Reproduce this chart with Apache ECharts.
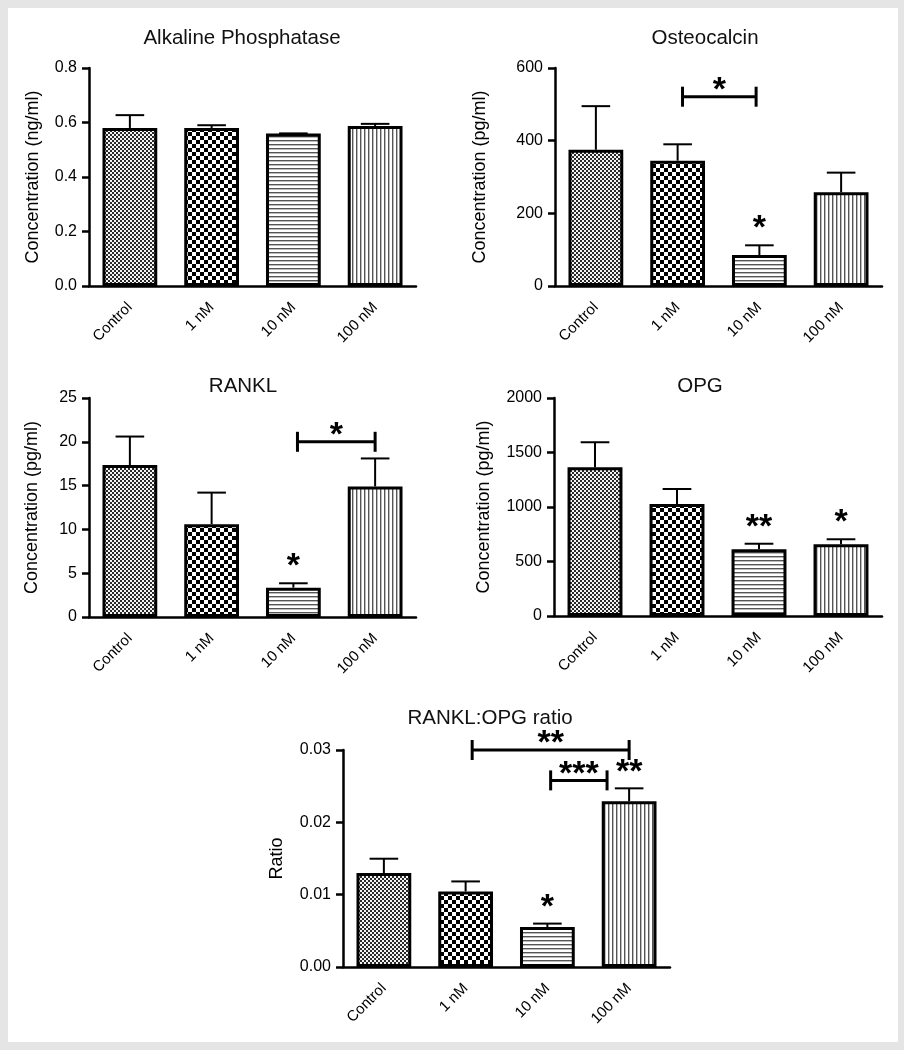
<!DOCTYPE html>
<html>
<head>
<meta charset="utf-8">
<script src="https://cdn.jsdelivr.net/npm/echarts@6/dist/echarts.min.js"></script>
<style>
html,body{margin:0;padding:0;background:#e5e5e5;}
#chart{width:904px;height:1050px;}
</style>
</head>
<body>
<div id="chart"></div>
<script>
// ---------- DATA ----------
const categories = ['Control', '1 nM', '10 nM', '100 nM'];

const alpMean = [0.580, 0.580, 0.560, 0.587];
const alpSem  = [0.047, 0.010, 0.000, 0.008];
const alpTicks = [0, 0.2, 0.4, 0.6, 0.8];
const alpStars = ['', '', '', ''];
const alpBrackets = [];

const ocMean = [375, 345, 85, 258];
const ocSem  = [120, 45, 27, 54];
const ocTicks = [0, 200, 400, 600];
const ocStars = ['', '', '*', ''];
const ocBrackets = [[1.06, 1.96, 521, '*']];

const ranklMean = [17.35, 10.6, 3.35, 14.9];
const ranklSem  = [3.25, 3.6, 0.5, 3.2];
const ranklTicks = [0, 5, 10, 15, 20, 25];
const ranklStars = ['', '', '*', ''];
const ranklBrackets = [[2.05, 3.0, 20.0, '*']];

const opgMean = [1364, 1028, 612, 658];
const opgSem  = [230, 137, 51, 46];
const opgTicks = [0, 500, 1000, 1500, 2000];
const opgStars = ['', '', '**', '*'];
const opgBrackets = [];

const ratioMean = [0.0130, 0.01045, 0.00553, 0.0229];
const ratioSem  = [0.00197, 0.00138, 0.00047, 0.0018];
const ratioTicks = [0, 0.01, 0.02, 0.03];
const ratioStars = ['', '', '*', '**'];
const ratioBrackets = [[1.08, 3.0, 0.030, '**'], [2.04, 2.73, 0.0258, '***']];

// ---------- STYLE / LAYOUT ----------
const FONT = '"Liberation Sans", Arial, Helvetica, sans-serif';

function makePattern(kind) {
  const c = document.createElement('canvas');
  const ctx = c.getContext('2d');
  if (kind === 0) { // fine checker
    c.width = 4; c.height = 4;
    ctx.fillStyle = '#f4f4f4'; ctx.fillRect(0, 0, 4, 4);
    ctx.fillStyle = '#2a2a2a';
    ctx.fillRect(0, 0, 2, 2); ctx.fillRect(2, 2, 2, 2);
  } else if (kind === 1) { // coarse checker
    c.width = 8; c.height = 8;
    ctx.fillStyle = '#fff'; ctx.fillRect(0, 0, 8, 8);
    ctx.fillStyle = '#000';
    ctx.fillRect(0, 0, 4, 4); ctx.fillRect(4, 4, 4, 4);
  } else if (kind === 2) { // horizontal lines
    c.width = 4; c.height = 4;
    ctx.fillStyle = '#fff'; ctx.fillRect(0, 0, 4, 4);
    ctx.fillStyle = '#555'; ctx.fillRect(0, 0, 4, 1);
    ctx.fillStyle = '#bbb'; ctx.fillRect(0, 1, 4, 1);
  } else { // vertical lines
    c.width = 4; c.height = 4;
    ctx.fillStyle = '#fff'; ctx.fillRect(0, 0, 4, 4);
    ctx.fillStyle = '#555'; ctx.fillRect(0, 0, 1, 4);
    ctx.fillStyle = '#bbb'; ctx.fillRect(1, 0, 1, 4);
  }
  return { image: c, repeat: 'repeat' };
}
const patterns = [0, 1, 2, 3].map(makePattern);

const panels = [
  { title: 'Alkaline Phosphatase', yName: 'Concentration (ng/ml)', mean: alpMean, sem: alpSem, ticks: alpTicks, dec: 1,
    stars: alpStars, brackets: alpBrackets, grid: { left: 89, top: 68, width: 327, height: 218 }, tx: 237, ty: 23, gap: 47 },
  { title: 'Osteocalcin', yName: 'Concentration (pg/ml)', mean: ocMean, sem: ocSem, ticks: ocTicks, dec: 0,
    stars: ocStars, brackets: ocBrackets, grid: { left: 555, top: 68, width: 327, height: 218 }, tx: 700, ty: 23, gap: 66 },
  { title: 'RANKL', yName: 'Concentration (pg/ml)', mean: ranklMean, sem: ranklSem, ticks: ranklTicks, dec: 0,
    stars: ranklStars, brackets: ranklBrackets, grid: { left: 89, top: 398, width: 327, height: 219 }, tx: 238, ty: 371, gap: 48 },
  { title: 'OPG', yName: 'Concentration (pg/ml)', mean: opgMean, sem: opgSem, ticks: opgTicks, dec: 0,
    stars: opgStars, brackets: opgBrackets, grid: { left: 554, top: 398, width: 328, height: 218 }, tx: 695, ty: 371, gap: 61 },
  { title: 'RANKL:OPG ratio', yName: 'Ratio', mean: ratioMean, sem: ratioSem, ticks: ratioTicks, dec: 2,
    stars: ratioStars, brackets: ratioBrackets, grid: { left: 343, top: 750, width: 327, height: 217 }, tx: 485, ty: 703, gap: 57 }
];

const STAR_FS = 34;

function xAt(api, v) {
  const a = Math.floor(v), b = Math.ceil(v);
  const xa = api.coord([a, 0])[0];
  if (a === b) return xa;
  const xb = api.coord([b, 0])[0];
  return xa + (v - a) * (xb - xa);
}

function starText(text, x, yCenter) {
  return {
    type: 'text',
    style: {
      text: text, x: x, y: yCenter + 0.2 * STAR_FS,
      align: 'center', verticalAlign: 'middle',
      fontSize: STAR_FS, fontWeight: 'bold', fontFamily: FONT, fill: '#000'
    }
  };
}

const option = {
  animation: false,
  backgroundColor: '#e5e5e5',
  graphic: [{ type: 'rect', shape: { x: 8, y: 8, width: 890, height: 1034 }, style: { fill: '#fff' }, z: -10 }],
  title: [], grid: [], xAxis: [], yAxis: [], series: []
};

panels.forEach((p, k) => {
  option.title.push({
    text: p.title, left: p.tx, top: p.ty, textAlign: 'center',
    textStyle: { fontFamily: FONT, fontSize: 20.5, fontWeight: 'normal', color: '#111' }
  });
  option.grid.push(Object.assign({ containLabel: false }, p.grid));
  option.xAxis.push({
    type: 'category', gridIndex: k, data: categories,
    axisLine: { lineStyle: { color: '#000', width: 2.5 } },
    axisTick: { alignWithLabel: true, length: 8, lineStyle: { color: '#000', width: 2.5 } },
    axisLabel: { rotate: 45, fontSize: 15, fontFamily: FONT, color: '#000', margin: 19 }
  });
  const t = p.ticks;
  option.yAxis.push({
    type: 'value', gridIndex: k, min: t[0], max: t[t.length - 1], interval: t[1] - t[0],
    name: p.yName, nameLocation: 'middle', nameGap: p.gap,
    nameTextStyle: { fontSize: 18, fontFamily: FONT, color: '#000' },
    axisLine: { show: true, lineStyle: { color: '#000', width: 2.5 } },
    axisTick: { show: true, length: 7, lineStyle: { color: '#000', width: 2.5 } },
    splitLine: { show: false },
    axisLabel: { fontSize: 16, fontFamily: FONT, color: '#000', margin: 12,
      formatter: (v) => Number(v).toFixed(p.dec) }
  });
  // bars
  option.series.push({
    type: 'bar', xAxisIndex: k, yAxisIndex: k, barWidth: '67%',
    data: p.mean.map((v, i) => ({ value: v, itemStyle: { color: patterns[i] } })),
    itemStyle: { borderColor: '#000', borderWidth: 3 },
    z: 2
  });
  // error bars (mean + SEM)
  option.series.push({
    type: 'custom', xAxisIndex: k, yAxisIndex: k, clip: false, z: 3,
    encode: { x: 0, y: [1, 2] },
    data: p.mean.map((v, i) => [i, v, v + p.sem[i]]),
    renderItem: function (params, api) {
      const i = api.value(0);
      const p0 = api.coord([i, api.value(1)]);
      const p1 = api.coord([i, api.value(2)]);
      const half = api.size([1, 0])[0] * 0.175;
      const st = { stroke: '#000', lineWidth: 2 };
      return { type: 'group', children: [
        { type: 'line', shape: { x1: p0[0], y1: p0[1], x2: p1[0], y2: p1[1] }, style: st },
        { type: 'line', shape: { x1: p1[0] - half, y1: p1[1], x2: p1[0] + half, y2: p1[1] }, style: st }
      ] };
    }
  });
  // stars above individual bars
  const starIdx = p.stars.map((s, i) => i).filter(i => p.stars[i]);
  if (starIdx.length) {
    option.series.push({
      type: 'custom', xAxisIndex: k, yAxisIndex: k, clip: false, z: 4,
      encode: { x: 0, y: 1 },
      data: starIdx.map(i => [i, p.mean[i] + p.sem[i]]),
      renderItem: function (params, api) {
        const i = api.value(0);
        const pt = api.coord([i, api.value(1)]);
        return starText(p.stars[starIdx[params.dataIndex]], pt[0], pt[1] - 23);
      }
    });
  }
  // significance brackets
  if (p.brackets.length) {
    option.series.push({
      type: 'custom', xAxisIndex: k, yAxisIndex: k, clip: false, z: 4,
      encode: { x: 0, y: 1 },
      data: p.brackets.map(b => [Math.round(b[0]), b[2]]),
      renderItem: function (params, api) {
        const b = p.brackets[params.dataIndex];
        const y = api.coord([0, b[2]])[1];
        const x1 = xAt(api, b[0]);
        const x2 = xAt(api, b[1]);
        const st = { stroke: '#000', lineWidth: 3 };
        return { type: 'group', children: [
          { type: 'line', shape: { x1: x1, y1: y, x2: x2, y2: y }, style: st },
          { type: 'line', shape: { x1: x1, y1: y - 10, x2: x1, y2: y + 10 }, style: st },
          { type: 'line', shape: { x1: x2, y1: y - 10, x2: x2, y2: y + 10 }, style: st },
          starText(b[3], (x1 + x2) / 2, y - 13)
        ] };
      }
    });
  }
});

const chart = echarts.init(document.getElementById('chart'), null, { renderer: 'canvas' });
chart.setOption(option);
</script>
</body>
</html>
